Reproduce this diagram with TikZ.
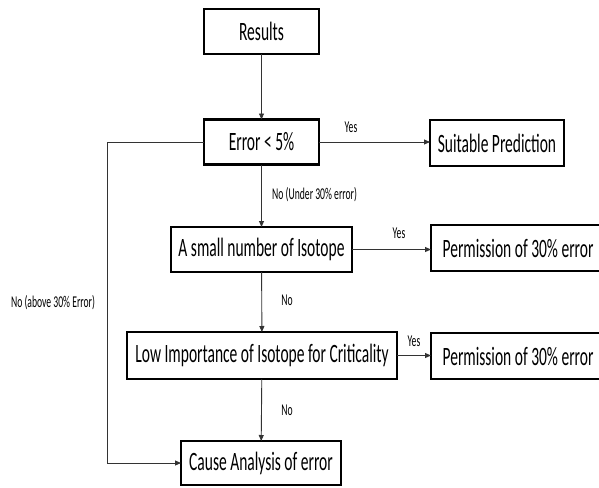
\documentclass[tikz,border=0pt]{standalone}
\usepackage{fontspec}
\setmainfont{Carlito}
\newfontfamily\boxfont[FakeStretch=0.585]{Carlito}
\usetikzlibrary{arrows.meta}
\begin{document}
\begin{tikzpicture}[x=1pt,y=-1pt,
  box/.style={draw, line width=2.4pt, inner sep=0pt, outer sep=0pt, align=center,
    font=\boxfont\fontsize{26.5}{31}\selectfont},
  lbl/.style={inner sep=0pt, font=\boxfont\fontsize{16.5}{19}\selectfont},
  conn/.style={draw=black!80, line width=0.9pt, -{Triangle[length=6pt,width=5pt]}}]
\clip (0,0) rectangle (599,487);
\fill[white] (0,0) rectangle (599,487);
\node[box, minimum width=115pt, minimum height=45pt] (res) at (261.5,31.5) {Results};
\node[box, minimum width=115pt, minimum height=45pt] (err) at (261.5,142) {Error < 5\%};
\node[box, minimum width=134pt, minimum height=46pt] (suit) at (497,143) {Suitable Prediction};
\node[box, minimum width=181pt, minimum height=45pt] (small) at (261.5,249.5) {A small number of Isotope};
\node[box, minimum width=174pt, minimum height=46pt] (perm1) at (518,248) {Permission of 30\% error};
\node[box, minimum width=270pt, minimum height=47pt] (low) at (262,355.5) {Low Importance of Isotope for Criticality};
\node[box, minimum width=174pt, minimum height=46pt] (perm2) at (518,356) {Permission of 30\% error};
\node[box, minimum width=160pt, minimum height=44pt] (cause) at (261,463) {Cause Analysis of error};
\coordinate (lt) at (107,142);
\coordinate (lb) at (107,463);
\draw[conn] (res) -- (err);
\draw[conn] (err) -- (suit.west |- err.east);
\draw[conn] (err) -- (small);
\draw[conn] (small) -- (perm1.west |- small.east);
\draw[conn] (small) -- (low);
\draw[conn] (low) -- (perm2.west |- low.east);
\draw[conn] (low) -- (cause);
\draw[conn] (err.west) -- (lt) -- (lb) -- (cause.west);
\node[lbl] (y1) at (351,127) {Yes};
\node[lbl, anchor=west] (n1) at (272,195) {No (Under 30\% error)};
\node[lbl] (y2) at (399,233) {Yes};
\node[lbl] (n2) at (287,300) {No};
\node[lbl] (y3) at (414,341) {Yes};
\node[lbl] (n3) at (287,410) {No};
\node[lbl] (n4) at (53,303) {No (above 30\% Error)};
\end{tikzpicture}
\end{document}
